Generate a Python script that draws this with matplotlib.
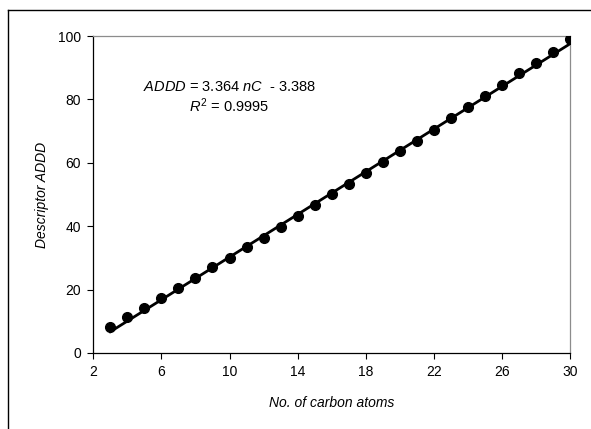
import matplotlib
matplotlib.use("Agg")
import matplotlib.pyplot as plt
from matplotlib.lines import Line2D
import numpy as np

plt.rcParams['font.family'] = ['Liberation Sans', 'DejaVu Sans']
plt.rcParams['mathtext.fontset'] = 'custom'
plt.rcParams['mathtext.rm'] = 'Liberation Sans'
plt.rcParams['mathtext.it'] = 'Liberation Sans:italic'

# data
n_carbon = [3, 4, 5, 6, 7, 8, 9, 10, 11, 12, 13, 14, 15, 16, 17, 18, 19, 20,
            21, 22, 23, 24, 25, 26, 27, 28, 29, 30]
addd = [8.3, 11.3, 14.3, 17.3, 20.5, 23.6, 27.0, 30.1, 33.4, 36.4, 39.7, 43.1,
        46.6, 50.1, 53.4, 56.8, 60.3, 63.7, 67.0, 70.4, 74.2, 77.7, 81.1, 84.5,
        88.2, 91.6, 95.0, 99.0]
slope = 3.364
intercept = -3.388
x_ticks = [2, 6, 10, 14, 18, 22, 26, 30]
y_ticks = [0, 20, 40, 60, 80, 100]

fig = plt.figure(figsize=(5.91, 4.29), dpi=100)
ax = fig.add_axes([93.3 / 591, 1 - 353 / 429, (570 - 93.3) / 591, (353 - 36) / 429])

xs = np.array([n_carbon[0], n_carbon[-1]], dtype=float)
ax.plot(xs, slope * xs + intercept, color='black', lw=2.0, zorder=2)
ax.plot(n_carbon, addd, 'o', color='black', markersize=7.0, zorder=3)

ax.set_xlim(2, 30)
ax.set_ylim(0, 100)
ax.set_xticks(x_ticks)
ax.set_yticks(y_ticks)
ax.tick_params(direction='out', length=4, width=0.8, labelsize=10, pad=5,
               colors='black')
for s in ['top', 'right']:
    ax.spines[s].set_color('#8c8c8c')
    ax.spines[s].set_linewidth(0.9)
for s in ['left', 'bottom']:
    ax.spines[s].set_color('black')
    ax.spines[s].set_linewidth(0.9)

ax.set_xlabel('No. of carbon atoms', fontsize=10, style='italic', labelpad=12)
ax.set_ylabel('Descriptor ADDD', fontsize=10, style='italic', labelpad=6)

ax.text(0.2857, 0.84, r'$\mathit{ADDD}$ = 3.364 $\mathit{nC}$  - 3.388',
        transform=ax.transAxes, ha='center', va='center', fontsize=10.5)
ax.text(0.2857, 0.779, r'$\mathit{R}^{\mathrm{2}}$ = 0.9995',
        transform=ax.transAxes, ha='center', va='center', fontsize=10.5)

# outer chart-area border (top and left visible)
fig.add_artist(Line2D([8 / 591, 1.0], [1 - 10 / 429, 1 - 10 / 429],
                      transform=fig.transFigure, color='black', lw=1.0))
fig.add_artist(Line2D([8 / 591, 8 / 591], [0.0, 1 - 10 / 429],
                      transform=fig.transFigure, color='black', lw=1.0))

fig.savefig('out.png', dpi=100)
